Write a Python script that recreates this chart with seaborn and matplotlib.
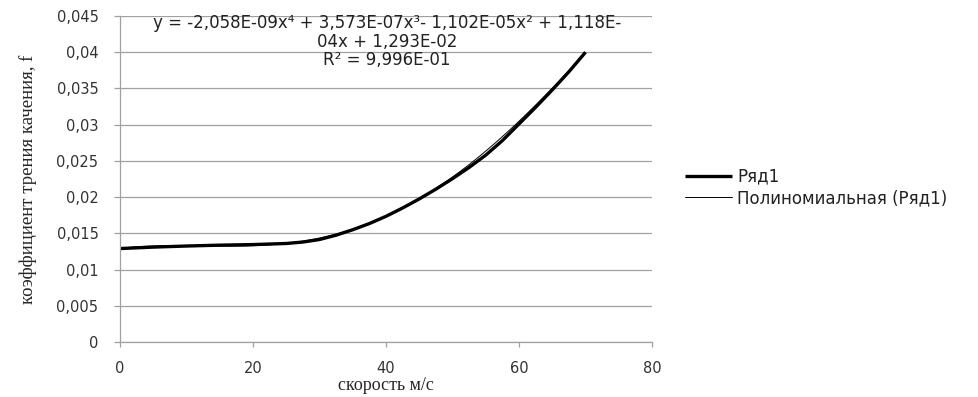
import numpy as np
import pandas as pd
import seaborn as sns
import matplotlib.pyplot as plt
from matplotlib.ticker import FuncFormatter, MultipleLocator

# data
speed = [0, 5, 10, 15, 20, 25, 27.5, 30, 32.5, 35, 37.5, 40, 42.5, 45, 47.5,
         50, 52.5, 55, 57.5, 60, 62.5, 65, 67.5, 70]
friction = [0.01290, 0.01310, 0.01325, 0.01337, 0.01345, 0.01360, 0.01380, 0.01415,
            0.01475, 0.01550, 0.01635, 0.01735, 0.01850, 0.01975, 0.02110,
            0.02255, 0.02410, 0.02580, 0.02780, 0.03010, 0.03240, 0.03480,
            0.03730, 0.04000]
# trend line coefficients as printed on the chart (x^4 ... x^0)
poly_coef = [-2.058e-09, 3.573e-07, -1.102e-05, 1.118e-04, 1.293e-02]
eq_text = ("y = -2,058E-09x\u2074 + 3,573E-07x\u00b3- 1,102E-05x\u00b2 + 1,118E-\n"
           "04x + 1,293E-02\nR\u00b2 = 9,996E-01")

sns.set_theme(style="white")
plt.rcParams['font.family'] = ['DejaVu Sans']

fig = plt.figure(figsize=(9.79, 3.97), dpi=100)
ax = fig.add_axes([0.1226, 0.1385, 0.5434, 0.8212])

df = pd.DataFrame({'x': speed, 'y': friction})
sns.lineplot(data=df, x='x', y='y', ax=ax, color='black', linewidth=2.4, label='Ряд1',
             solid_joinstyle='round', solid_capstyle='butt')

xt = np.linspace(0, 70, 200)
trend = pd.DataFrame({'x': xt, 'y': np.polyval(poly_coef, xt)})
sns.lineplot(data=trend, x='x', y='y', ax=ax, color='black', linewidth=0.7,
             label='Полиномиальная (Ряд1)')

ax.set_xlim(0, 80)
ax.set_ylim(0, 0.045)
ax.xaxis.set_major_locator(MultipleLocator(20))
ax.yaxis.set_major_locator(MultipleLocator(0.005))
ax.yaxis.set_major_formatter(FuncFormatter(lambda v, p: f'{v:.3f}'.rstrip('0').rstrip('.').replace('.', ',')))
ax.grid(axis='y', color='#a0a0a0', linewidth=0.9)
ax.set_axisbelow(True)
for s in ['top', 'right']:
    ax.spines[s].set_visible(False)
for s in ['left', 'bottom']:
    ax.spines[s].set_color('#a0a0a0')
    ax.spines[s].set_linewidth(0.9)
ax.tick_params(axis='both', which='major', width=0.9, color='#a0a0a0',
               labelsize=10.5, labelcolor='#333333', direction='out', bottom=True, left=True)
ax.tick_params(axis='x', length=3.5, pad=10)
ax.tick_params(axis='y', length=4.5, pad=11)

ax.set_xlabel('скорость м/с', family='Liberation Serif', fontsize=13, labelpad=1)
ax.set_ylabel('коэффициент трения качения, f', family='Liberation Serif', fontsize=13.5,
              labelpad=14)

ax.text(0.502, 0.921, eq_text, transform=ax.transAxes, ha='center', va='center',
        multialignment='center', fontsize=12, color='#222222', linespacing=1.05)

leg = ax.legend(loc='upper left', bbox_to_anchor=(1.05, 0.555), frameon=False,
                fontsize=12, handlelength=2.8, handletextpad=0.3, labelspacing=0.2,
                borderaxespad=0)
for t in leg.get_texts():
    t.set_color('#222222')

fig.savefig('out.png', dpi=100)
